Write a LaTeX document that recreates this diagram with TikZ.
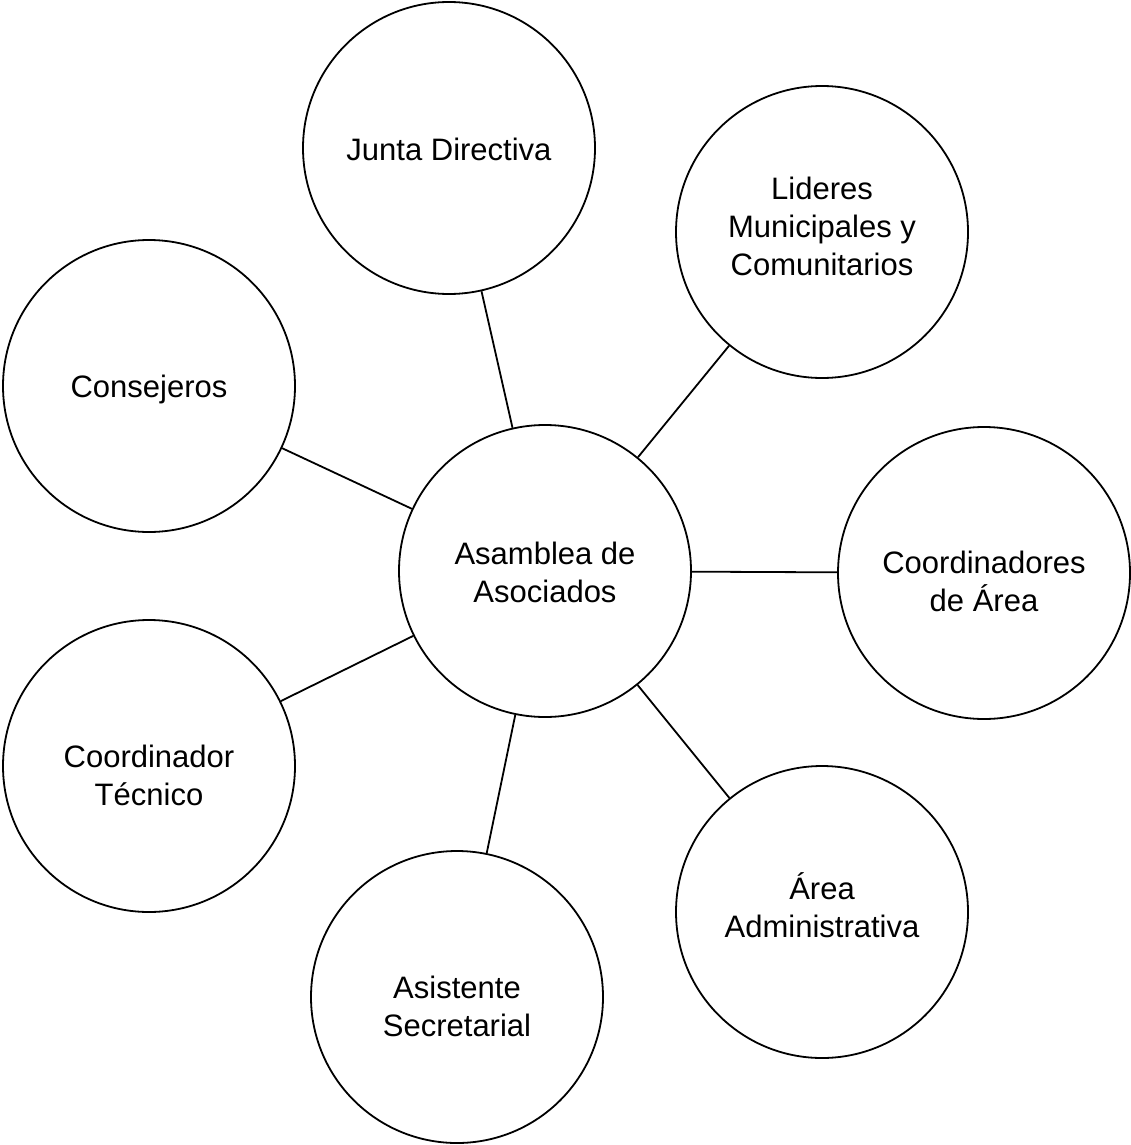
\documentclass[tikz,border=0pt]{standalone}
\usepackage{fontspec}
\setmainfont{Liberation Sans}
\begin{document}
\begin{tikzpicture}[x=1pt,y=-1pt,
  bub/.style={circle,draw=black,line width=1.8pt,minimum size=292pt,inner sep=0pt},
  lbl/.style={align=center,inner sep=0pt,font=\fontsize{31}{38}\selectfont},
  link/.style={line width=1.8pt}]
\useasboundingbox[fill=white] (0,0) rectangle (1130,1145);
\node[bub,label={[lbl,yshift=-1pt]center:Asamblea de\\Asociados}] (c) at (545,571) {};
\node[bub,label={[lbl,yshift=-1pt]center:Junta Directiva}] (jd) at (449,148) {};
\node[bub,label={[lbl,yshift=6pt]center:Lideres\\Municipales y\\Comunitarios}] (li) at (822,232) {};
\node[bub,label={[lbl,yshift=-3pt]center:Consejeros}] (co) at (149,386) {};
\node[bub,label={[lbl,yshift=-8pt]center:Coordinadores\\de Área}] (ca) at (984,573) {};
\node[bub,label={[lbl,yshift=-9pt]center:Coordinador\\Técnico}] (ct) at (149,766) {};
\node[bub,label={[lbl,yshift=-9pt]center:Asistente\\Secretarial}] (as) at (457,997) {};
\node[bub,label={[lbl,yshift=7pt]center:Área\\Administrativa}] (aa) at (822,912) {};
\foreach \n in {jd,li,co,ca,ct,as,aa} \draw[link] (c) -- (\n);
\end{tikzpicture}
\end{document}
